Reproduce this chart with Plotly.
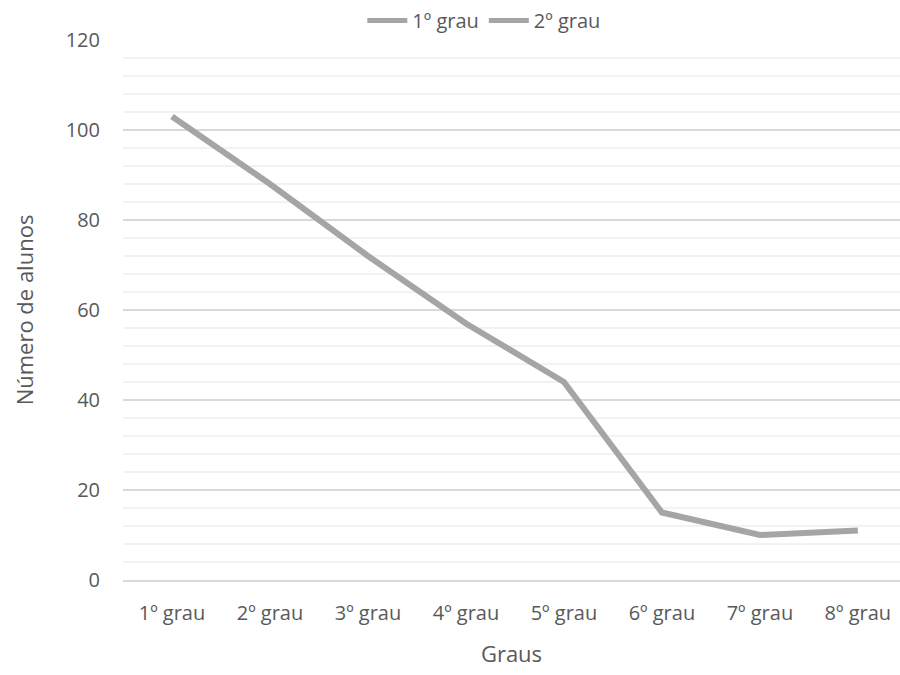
import plotly.graph_objects as go

categorias = ["1º grau", "2º grau", "3º grau", "4º grau", "5º grau", "6º grau", "7º grau", "8º grau"]
serie_1 = [103, 88, 72, 57, 44, 15, 10, 11]
serie_2 = [None, None, None, None, None, None, None, None]  # listed in the legend, no values drawn
nomes = ["1º grau", "2º grau"]

cinza_linha = "#A5A5A5"
cinza_texto = "#595959"
fonte = "Open Sans"

fig = go.Figure()
fig.add_trace(go.Scatter(x=categorias, y=serie_1, name=nomes[0], mode="lines",
                         line=dict(color=cinza_linha, width=6)))
fig.add_trace(go.Scatter(x=categorias, y=serie_2, name=nomes[1], mode="lines",
                         line=dict(color=cinza_linha, width=6)))

fig.update_layout(
    width=900, height=675,
    margin=dict(l=123, r=0, t=40, b=95),
    paper_bgcolor="white", plot_bgcolor="white",
    font=dict(family=fonte, size=20, color=cinza_texto),
    showlegend=True,
    legend=dict(orientation="h", x=0.465, xanchor="center", y=1.0, yanchor="bottom",
                font=dict(size=20, color=cinza_texto), itemwidth=40,
                tracegroupgap=0, itemsizing="constant"),
    xaxis=dict(
        type="category", range=[-0.5, 7.43],
        showgrid=False, showline=True, linecolor="#D9D9D9", linewidth=1.5,
        ticks="", ticklabelstandoff=14,
        tickfont=dict(size=20),
        title=dict(text="Graus", font=dict(size=22, color=cinza_texto), standoff=22),
    ),
    yaxis=dict(
        range=[0, 120], dtick=20, showline=False, zeroline=False,
        showgrid=True, gridcolor="#D9D9D9", gridwidth=1.5,
        minor=dict(dtick=4, showgrid=True, gridcolor="#F2F2F2", gridwidth=1.5),
        ticks="", ticklabelstandoff=22,
        tickfont=dict(size=20),
        title=dict(text="Número de alunos", font=dict(size=22, color=cinza_texto), standoff=25),
    ),
)

fig.write_html("out.html")
